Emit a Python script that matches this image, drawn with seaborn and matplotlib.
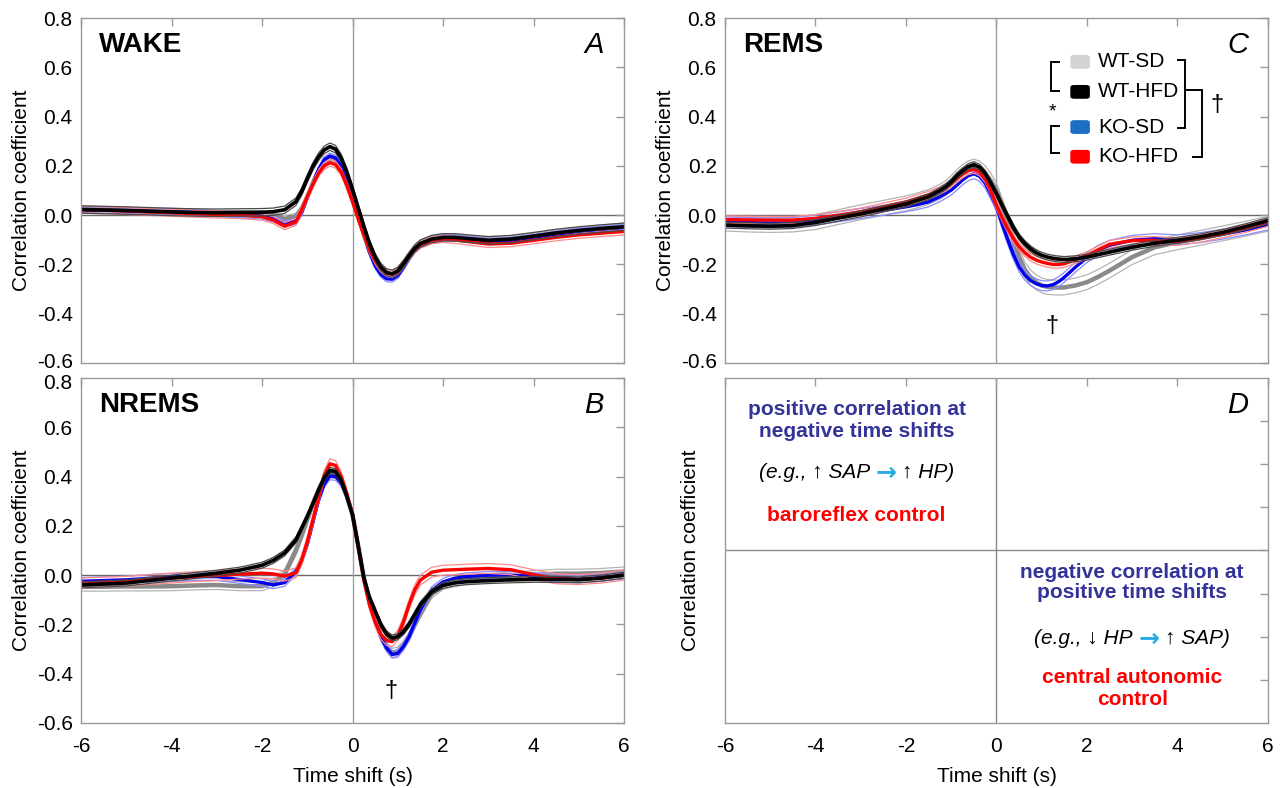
import numpy as np
import pandas as pd
import matplotlib
matplotlib.use("Agg")
import matplotlib.pyplot as plt
import seaborn as sns
from matplotlib.patches import FancyBboxPatch
from matplotlib.transforms import ScaledTranslation

# ---------------- data ----------------
T = [-6, -5.5, -5, -4.5, -4, -3.5, -3, -2.5, -2, -1.75, -1.5,
     -1.25, -1.125, -1, -0.875, -0.75, -0.625, -0.5, -0.375, -0.25, -0.125,
     0, 0.125, 0.25, 0.375, 0.5, 0.625, 0.75, 0.875, 1, 1.125, 1.25, 1.375, 1.5,
     1.75, 2, 2.25, 2.5, 3, 3.5, 4, 4.5, 5, 5.5, 6]

GROUPS = ["WT-SD", "WT-HFD", "KO-SD", "KO-HFD"]

# WAKE (panel A)
WAKE_WT_SD = [0.025, 0.022, 0.019, 0.015, 0.012, 0.009, 0.007, 0.006, 0.004, -0.002, -0.015,
              -0.005, 0.025, 0.075, 0.13, 0.18, 0.218, 0.232, 0.225, 0.195, 0.14,
              0.075, 0.0, -0.075, -0.145, -0.195, -0.228, -0.245, -0.248, -0.235, -0.205, -0.17, -0.138, -0.115,
              -0.095, -0.088, -0.088, -0.093, -0.1, -0.096, -0.086, -0.073, -0.062, -0.053, -0.045]
WAKE_WT_HFD = [0.023, 0.021, 0.019, 0.016, 0.013, 0.011, 0.010, 0.011, 0.012, 0.014, 0.022,
               0.055, 0.095, 0.148, 0.198, 0.237, 0.265, 0.278, 0.268, 0.232, 0.175,
               0.105, 0.03, -0.045, -0.115, -0.17, -0.21, -0.232, -0.238, -0.226, -0.198, -0.165, -0.135, -0.115,
               -0.097, -0.09, -0.09, -0.094, -0.102, -0.097, -0.085, -0.072, -0.062, -0.054, -0.047]
WAKE_KO_SD = [0.022, 0.02, 0.018, 0.016, 0.016, 0.012, 0.006, 0.002, -0.004, -0.015, -0.035,
              -0.025, 0.01, 0.07, 0.13, 0.185, 0.225, 0.24, 0.232, 0.2, 0.14,
              0.07, -0.005, -0.08, -0.15, -0.205, -0.24, -0.258, -0.26, -0.245, -0.212, -0.175, -0.142, -0.12,
              -0.1, -0.092, -0.092, -0.097, -0.106, -0.102, -0.09, -0.077, -0.065, -0.057, -0.05]
WAKE_KO_HFD = [0.022, 0.02, 0.017, 0.013, 0.01, 0.006, 0.003, 0.0, -0.006, -0.02, -0.045,
               -0.027, 0.02, 0.075, 0.125, 0.17, 0.2, 0.213, 0.205, 0.175, 0.12,
               0.055, -0.015, -0.08, -0.14, -0.185, -0.217, -0.235, -0.24, -0.228, -0.2, -0.168, -0.14, -0.12,
               -0.102, -0.097, -0.1, -0.106, -0.117, -0.114, -0.102, -0.09, -0.08, -0.073, -0.066]

# NREMS (panel B)
NREMS_WT_SD = [-0.047, -0.047, -0.046, -0.046, -0.045, -0.042, -0.04, -0.045, -0.045, -0.03, 0.005,
               0.1, 0.16, 0.225, 0.29, 0.345, 0.39, 0.413, 0.41, 0.385, 0.32,
               0.245, 0.12, -0.01, -0.11, -0.18, -0.245, -0.29, -0.315, -0.31, -0.285, -0.25, -0.2, -0.155,
               -0.075, -0.04, -0.028, -0.02, -0.012, -0.005, 0.0, 0.006, 0.006, 0.009, 0.015]
NREMS_WT_HFD = [-0.04, -0.036, -0.032, -0.022, -0.012, -0.002, 0.008, 0.02, 0.04, 0.06, 0.09,
                0.143, 0.19, 0.238, 0.29, 0.345, 0.395, 0.425, 0.42, 0.385, 0.32,
                0.245, 0.12, -0.01, -0.09, -0.145, -0.2, -0.238, -0.255, -0.25, -0.23, -0.2, -0.16, -0.12,
                -0.068, -0.042, -0.032, -0.027, -0.022, -0.019, -0.017, -0.017, -0.019, -0.012, 0.0]
NREMS_KO_SD = [-0.025, -0.022, -0.019, -0.013, -0.008, -0.006, -0.006, -0.018, -0.03, -0.04, -0.03,
               0.015, 0.06, 0.125, 0.215, 0.305, 0.37, 0.402, 0.4, 0.375, 0.32,
               0.245, 0.12, -0.01, -0.11, -0.18, -0.25, -0.295, -0.322, -0.318, -0.29, -0.25, -0.195, -0.14,
               -0.062, -0.028, -0.013, -0.006, 0.0, 0.0, -0.005, -0.012, -0.016, -0.01, 0.0]
NREMS_KO_HFD = [-0.032, -0.028, -0.025, -0.018, -0.012, -0.006, -0.002, 0.004, 0.008, 0.005, -0.004,
                0.01, 0.06, 0.135, 0.225, 0.315, 0.405, 0.452, 0.445, 0.4, 0.33,
                0.245, 0.115, -0.02, -0.12, -0.19, -0.24, -0.265, -0.27, -0.245, -0.19, -0.12, -0.06, -0.02,
                0.012, 0.02, 0.022, 0.024, 0.027, 0.022, 0.002, -0.015, -0.018, -0.012, 0.0]

# REMS (panel C)
REMS_WT_SD = [-0.034, -0.038, -0.04, -0.038, -0.028, -0.008, 0.012, 0.03, 0.048, 0.06, 0.074,
              0.095, 0.11, 0.13, 0.155, 0.175, 0.19, 0.197, 0.19, 0.17, 0.14,
              0.1, 0.04, -0.025, -0.1, -0.17, -0.22, -0.252, -0.272, -0.285, -0.291, -0.293, -0.294, -0.293,
              -0.285, -0.272, -0.25, -0.225, -0.17, -0.13, -0.11, -0.092, -0.074, -0.055, -0.035]
REMS_WT_HFD = [-0.04, -0.043, -0.045, -0.042, -0.03, -0.012, 0.005, 0.025, 0.045, 0.06, 0.075,
               0.1, 0.115, 0.135, 0.16, 0.18, 0.197, 0.205, 0.195, 0.17, 0.13,
               0.088, 0.04, -0.005, -0.05, -0.088, -0.115, -0.136, -0.152, -0.163, -0.17, -0.175, -0.178, -0.18,
               -0.177, -0.17, -0.16, -0.15, -0.13, -0.114, -0.102, -0.088, -0.07, -0.047, -0.022]
REMS_KO_SD = [-0.027, -0.03, -0.032, -0.03, -0.02, -0.007, 0.007, 0.02, 0.034, 0.043, 0.054,
              0.075, 0.088, 0.102, 0.122, 0.143, 0.16, 0.168, 0.158, 0.13, 0.085,
              0.035, -0.035, -0.1, -0.16, -0.21, -0.243, -0.265, -0.278, -0.286, -0.287, -0.282, -0.27, -0.252,
              -0.21, -0.172, -0.142, -0.122, -0.102, -0.095, -0.1, -0.091, -0.077, -0.06, -0.04]
REMS_KO_HFD = [-0.018, -0.019, -0.02, -0.02, -0.013, 0.0, 0.014, 0.034, 0.054, 0.068, 0.082,
               0.1, 0.112, 0.128, 0.148, 0.166, 0.18, 0.185, 0.175, 0.148, 0.1,
               0.04, -0.01, -0.055, -0.095, -0.128, -0.152, -0.17, -0.182, -0.19, -0.196, -0.2, -0.2, -0.197,
               -0.18, -0.163, -0.14, -0.118, -0.103, -0.102, -0.108, -0.095, -0.076, -0.055, -0.03]

# standard errors (one per group and state)
WAKE_SEM = [0.013, 0.015, 0.012, 0.014]
NREMS_SEM = [0.018, 0.012, 0.015, 0.02]
REMS_SEM = [0.03, 0.012, 0.02, 0.015]

X_TICKS = [-6, -4, -2, 0, 2, 4, 6]
X_TICK_LABELS = ["-6", "-4", "-2", "0", "2", "4", "6"]
Y_TICKS = [-0.6, -0.4, -0.2, 0.0, 0.2, 0.4, 0.6, 0.8]
Y_TICK_LABELS = ["-0.6", "-0.4", "-0.2", "0.0", "0.2", "0.4", "0.6", "0.8"]

# ---------------- style ----------------
sns.set_style("white")
FAMILY = ["Liberation Sans", "DejaVu Sans"]
plt.rcParams["font.family"] = FAMILY
plt.rcParams["axes.unicode_minus"] = False
plt.rcParams["text.color"] = "black"
plt.rcParams["axes.labelcolor"] = "black"

MEAN_COLORS = {"WT-SD": "#8a8a8a", "WT-HFD": "#000000", "KO-SD": "#0000ee", "KO-HFD": "#ff0000"}
SEM_COLORS = {"WT-SD": "#b4b4b4", "WT-HFD": "#4a4a4a", "KO-SD": "#8a8aff", "KO-HFD": "#ff8a8a"}
MEAN_LW = {"WT-SD": 3.2, "WT-HFD": 2.6, "KO-SD": 2.4, "KO-HFD": 2.4}
SWATCH_COLORS = {"WT-SD": "#d4d4d4", "WT-HFD": "#000000", "KO-SD": "#1a6fc4", "KO-HFD": "#ff0000"}
DRAW_ORDER = ["WT-SD", "KO-SD", "KO-HFD", "WT-HFD"]
SPINE = "#9a9a9a"
FS = 15

fig = plt.figure(figsize=(12.8, 7.88), dpi=100)
axA = fig.add_axes([0.0633, 0.5393, 0.4242, 0.4378])
axB = fig.add_axes([0.0633, 0.0825, 0.4242, 0.4378])
axC = fig.add_axes([0.5664, 0.5393, 0.4242, 0.4378])
axD = fig.add_axes([0.5664, 0.0825, 0.4242, 0.4378])


def style_axes(ax):
    for s in ax.spines.values():
        s.set_color(SPINE)
        s.set_linewidth(1.0)
    ax.tick_params(direction="in", top=True, right=True, length=6, width=1,
                   color=SPINE, labelsize=FS, labelcolor="black")
    ax.tick_params(axis="y", pad=6)
    ax.tick_params(axis="x", pad=10)


def draw_panel(ax, series, sems):
    ax.axhline(0, color="#6a6a6a", lw=1.0, zorder=0)
    ax.axvline(0, color="#a0a0a0", lw=1.0, zorder=0)
    for g in DRAW_ORDER:
        i = GROUPS.index(g)
        m = np.asarray(series[i], dtype=float)
        s = sems[i]
        df = pd.DataFrame({"t": T, "mean": m, "lo": m - s, "hi": m + s})
        for col in ("lo", "hi"):
            sns.lineplot(data=df, x="t", y=col, ax=ax, color=SEM_COLORS[g],
                         lw=0.9, estimator=None, sort=False)
        sns.lineplot(data=df, x="t", y="mean", ax=ax, color=MEAN_COLORS[g],
                     lw=MEAN_LW[g], estimator=None, sort=False)
    ax.set_xlim(-6, 6)
    ax.set_ylim(-0.6, 0.8)
    ax.set_xticks(X_TICKS)
    ax.set_yticks(Y_TICKS)
    ax.set_yticklabels(Y_TICK_LABELS)
    ax.set_ylabel("Correlation coefficient", fontsize=FS)
    ax.set_xlabel("")
    style_axes(ax)


draw_panel(axA, [WAKE_WT_SD, WAKE_WT_HFD, WAKE_KO_SD, WAKE_KO_HFD], WAKE_SEM)
draw_panel(axB, [NREMS_WT_SD, NREMS_WT_HFD, NREMS_KO_SD, NREMS_KO_HFD], NREMS_SEM)
draw_panel(axC, [REMS_WT_SD, REMS_WT_HFD, REMS_KO_SD, REMS_KO_HFD], REMS_SEM)

for ax in (axA, axC):
    ax.set_xticklabels([])
axB.set_xticklabels(X_TICK_LABELS)
axB.set_xlabel("Time shift (s)", fontsize=FS, labelpad=8)

# panel D (schematic)
axD.axhline(0, color="#8a8a8a", lw=1.0, zorder=0)
axD.axvline(0, color="#8a8a8a", lw=1.0, zorder=0)
axD.set_xlim(-6, 6)
axD.set_ylim(-0.8, 0.8)
axD.set_xticks(X_TICKS)
axD.set_xticklabels(X_TICK_LABELS)
axD.set_yticks([-0.6, -0.4, -0.2, 0.0, 0.2, 0.4, 0.6])
axD.set_yticklabels([])
axD.set_xlabel("Time shift (s)", fontsize=FS, labelpad=8)
axD.set_ylabel("Correlation coefficient", fontsize=FS, labelpad=12)
style_axes(axD)

# state labels and panel letters
for ax, state in ((axA, "WAKE"), (axB, "NREMS"), (axC, "REMS")):
    ax.text(0.033, 0.922, state, transform=ax.transAxes, fontsize=20,
            fontweight="bold", ha="left", va="center", color="black")
for ax, letter in ((axA, "A"), (axB, "B"), (axC, "C"), (axD, "D")):
    ax.text(0.945, 0.922, letter, transform=ax.transAxes, fontsize=21,
            style="italic", ha="center", va="center", color="black")

# significance daggers
axB.text(0.85, -0.47, "\u2020", fontsize=17, ha="center", va="center")
axC.text(1.22, -0.45, "\u2020", fontsize=17, ha="center", va="center")

# legend with brackets in panel C
ROWS_Y = [0.873, 0.786, 0.684, 0.598]
for g, yy in zip(GROUPS, ROWS_Y):
    axC.add_patch(FancyBboxPatch((0.636, yy - 0.02), 0.036, 0.04,
                                 boxstyle="round,pad=0,rounding_size=0.007",
                                 transform=axC.transAxes, fc=SWATCH_COLORS[g],
                                 ec="none", zorder=5))
    axC.text(0.687, yy, g, transform=axC.transAxes, fontsize=FS,
             ha="left", va="center", zorder=5)

BK = dict(color="black", lw=1.4, transform=axC.transAxes, clip_on=False,
          solid_capstyle="butt", solid_joinstyle="miter")
# left brackets
axC.plot([0.617, 0.600, 0.600, 0.617], [0.873, 0.873, 0.789, 0.789], **BK)
axC.plot([0.617, 0.600, 0.600, 0.617], [0.687, 0.687, 0.609, 0.609], **BK)
axC.text(0.604, 0.728, "*", transform=axC.transAxes, fontsize=14,
         ha="center", va="center")
# right brackets
axC.plot([0.832, 0.848, 0.848, 0.832], [0.878, 0.878, 0.681, 0.681], **BK)
axC.plot([0.848, 0.878, 0.878, 0.860], [0.791, 0.791, 0.598, 0.598], **BK)
axC.text(0.906, 0.748, "\u2020", transform=axC.transAxes, fontsize=17,
         ha="center", va="center")

# text in panel D
BLUE_TXT = "#33339a"
RED_TXT = "#ff0000"
CYAN = "#29abe2"


def rich_line(ax, x, y, pieces, size):
    texts = []
    for s, color, style, weight, fsz, fam in pieces:
        texts.append(ax.text(x, y, s, color=color, style=style, fontweight=weight,
                             fontsize=fsz, ha="left", va="center", family=fam))
    fig.canvas.draw()
    r = fig.canvas.get_renderer()
    widths = [t.get_window_extent(r).width for t in texts]
    gap = size * 0.28 * fig.dpi / 72.0
    total = sum(widths) + gap * (len(texts) - 1)
    off = -total / 2.0
    for t, w in zip(texts, widths):
        t.set_transform(ax.transData + ScaledTranslation(off / fig.dpi, 0, fig.dpi_scale_trans))
        off += w + gap


ARROW = ("\u2192", CYAN, "normal", "bold", 18, ["DejaVu Sans"])

axD.text(-3.09, 0.652, "positive correlation at", color=BLUE_TXT, fontsize=FS,
         fontweight="bold", ha="center", va="center")
axD.text(-3.09, 0.551, "negative time shifts", color=BLUE_TXT, fontsize=FS,
         fontweight="bold", ha="center", va="center")
rich_line(axD, -3.09, 0.362, [("(e.g., \u2191 SAP", "black", "italic", "normal", FS, FAMILY),
                              ARROW,
                              ("\u2191 HP)", "black", "italic", "normal", FS, FAMILY)], FS)
axD.text(-3.09, 0.164, "baroreflex control", color=RED_TXT, fontsize=FS,
         fontweight="bold", ha="center", va="center")

axD.text(3.0, -0.104, "negative correlation at", color=BLUE_TXT, fontsize=FS,
         fontweight="bold", ha="center", va="center")
axD.text(3.0, -0.196, "positive time shifts", color=BLUE_TXT, fontsize=FS,
         fontweight="bold", ha="center", va="center")
rich_line(axD, 3.0, -0.408, [("(e.g., \u2193 HP", "black", "italic", "normal", FS, FAMILY),
                             ARROW,
                             ("\u2191 SAP)", "black", "italic", "normal", FS, FAMILY)], FS)
axD.text(3.0, -0.588, "central autonomic", color=RED_TXT, fontsize=FS,
         fontweight="bold", ha="center", va="center")
axD.text(3.0, -0.689, "control", color=RED_TXT, fontsize=FS,
         fontweight="bold", ha="center", va="center")

# keep the touching end labels of the stacked panels apart
for ax, idx, dy in ((axA, 0, 3), (axC, 0, 3), (axB, -1, -3)):
    lab = ax.yaxis.get_major_ticks()[idx].label1
    lab.set_transform(lab.get_transform() + ScaledTranslation(0, dy / 100.0, fig.dpi_scale_trans))

fig.savefig("out.png", dpi=100)
